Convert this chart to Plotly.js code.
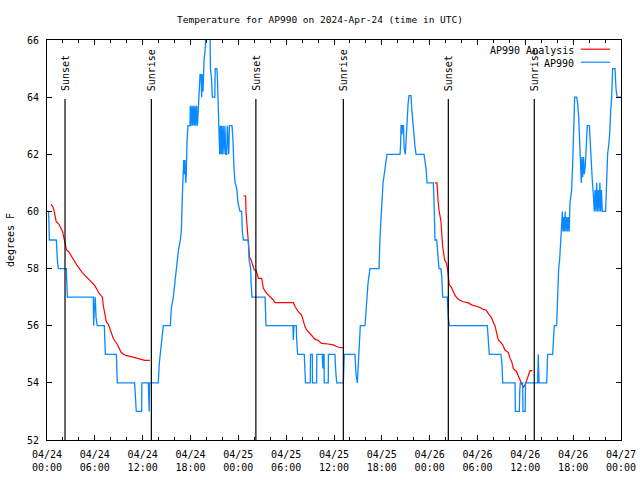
<!DOCTYPE html>
<html>
<head>
<meta charset="utf-8">
<script src="https://cdn.plot.ly/plotly-3.0.1.min.js"></script>
<style>html,body{margin:0;padding:0;background:#fff;}#chart{width:640px;height:480px;}</style>
</head>
<body>
<div id="chart"></div>
<script>
// Hours since 2024-04-24 00:00 UTC
const stationHours = [
 0.00,0.20,0.30,1.17,1.30,1.42,2.42,2.48,2.55,5.81,5.85,5.93,6.05,6.15,6.30,7.19,7.25,7.32,8.70,8.76,8.82,
 10.99,11.10,11.20,11.87,11.90,12.71,12.75,12.82,12.86,13.96,14.09,14.21,14.34,14.46,14.59,15.47,15.59,15.84,
 16.10,16.22,16.47,16.72,16.85,16.97,17.06,17.15,17.20,17.30,17.40,17.47,17.57,17.69,17.94,17.97,18.07,18.17,
 18.27,18.37,18.47,18.57,18.67,18.77,18.87,18.97,19.07,19.20,19.32,19.40,19.50,19.57,19.70,19.82,19.95,20.45,
 20.50,20.62,20.74,21.05,21.10,21.30,21.36,21.45,21.58,21.66,21.74,21.82,21.90,21.98,22.10,22.20,22.32,22.42,
 22.55,22.62,22.80,22.88,23.21,23.33,23.46,23.59,23.72,23.84,23.96,24.21,24.42,24.50,24.63,25.25,25.35,25.55,
 25.60,25.71,27.35,27.40,27.47,30.85,30.90,30.98,31.27,31.32,31.44,32.27,32.35,32.42,33.03,33.05,33.28,33.30,
 33.82,33.85,34.53,34.60,34.66,34.75,34.78,35.28,35.30,36.12,36.20,36.33,37.17,37.22,37.29,38.63,38.76,38.93,
 39.05,39.18,39.30,39.89,40.02,40.14,40.27,40.51,41.65,41.77,41.90,42.03,42.15,42.40,42.65,44.28,44.35,44.41,
 44.48,44.53,44.60,44.72,44.80,44.95,45.05,45.15,45.30,45.41,45.66,45.75,45.88,46.00,46.15,46.29,47.29,47.42,
 47.55,47.67,48.46,48.55,48.67,48.88,49.04,49.17,49.42,49.52,49.63,50.21,50.34,50.46,55.23,55.35,55.48,56.94,
 57.06,57.16,58.71,58.75,59.25,59.30,59.37,59.66,59.70,59.98,60.02,61.55,61.62,61.72,62.68,62.75,62.80,63.43,
 63.55,63.63,63.93,64.05,64.18,64.30,64.43,64.51,64.64,64.72,64.80,64.90,65.00,65.10,65.20,65.30,65.40,65.50,
 65.60,65.81,65.94,66.06,66.19,66.44,66.56,66.69,66.81,66.94,67.02,67.10,67.20,67.30,67.40,67.52,67.65,67.77,
 68.03,68.15,68.28,68.40,68.53,68.65,68.75,68.85,68.95,69.05,69.15,69.25,69.35,69.45,69.55,69.65,70.07,70.12,
 70.20,70.32,70.45,70.58,70.70,70.83,70.95,71.25,71.37,71.50,72.00
];
const stationTemp = [
 60.0,60.0,59.0,59.0,58.3,58.0,58.0,57.5,57.0,57.0,56.0,56.5,57.0,56.3,56.0,56.0,55.3,55.0,55.0,54.4,54.0,
 54.0,53.3,53.0,53.0,54.0,54.0,53.0,53.0,54.0,54.0,54.7,55.0,55.3,55.7,56.0,56.0,56.6,57.0,
 57.7,58.0,58.6,59.0,59.3,60.5,61.5,61.8,61.3,61.8,61.0,61.3,62.5,63.0,63.0,63.7,63.0,63.7,
 63.0,63.7,63.0,63.7,63.0,63.7,63.0,63.7,64.0,64.8,64.8,64.0,64.8,64.2,65.3,65.6,66.3,66.3,
 65.0,64.7,64.0,64.0,65.0,65.0,64.8,63.7,63.0,62.0,63.0,62.0,63.0,62.0,63.0,62.0,63.0,62.0,
 62.0,63.0,62.0,63.0,63.0,62.5,61.5,61.0,60.9,60.7,60.3,60.0,60.0,59.3,59.0,59.0,58.3,58.0,
 57.5,57.0,57.0,56.3,56.0,56.0,55.5,56.0,56.0,55.5,55.0,55.0,54.5,54.0,54.0,55.0,55.0,54.0,
 54.0,55.0,55.0,54.5,55.0,55.0,54.0,54.0,55.0,55.0,54.5,54.0,54.0,54.5,55.0,55.0,54.3,54.0,
 54.7,55.3,56.0,56.0,56.6,57.0,57.5,58.0,58.0,59.1,59.7,60.6,61.0,61.5,62.0,62.0,62.3,63.0,
 63.0,62.7,63.0,63.0,62.2,62.0,62.5,63.4,63.8,64.05,64.05,63.6,63.0,62.8,62.3,62.0,62.0,61.8,
 61.5,61.0,61.0,60.3,59.0,59.0,58.3,58.0,58.0,57.7,57.0,57.0,56.3,56.0,56.0,55.5,55.0,55.0,
 54.7,54.0,54.0,53.0,53.0,53.7,54.0,54.0,53.0,53.0,54.0,54.0,55.0,54.0,54.0,54.6,55.0,55.0,
 55.6,56.0,56.0,57.5,58.0,58.3,58.8,59.3,60.0,59.3,59.8,59.3,60.0,59.3,59.8,59.3,59.8,59.3,
 60.3,60.75,61.7,63.3,64.0,64.0,63.8,63.3,62.5,61.6,61.0,61.9,61.2,61.9,61.3,61.6,62.5,63.0,
 63.0,62.2,61.7,61.1,60.6,60.0,60.75,60.0,61.0,60.0,60.75,60.0,61.0,60.0,60.75,60.0,60.0,60.5,
 61.6,62.0,62.3,62.7,63.5,64.0,65.0,65.0,64.3,64.0,64.0
];
// Analysis series (null separates the nightly runs)
const analysisHours = [
 0.50,0.75,0.90,1.15,1.50,1.95,2.10,2.30,2.45,2.70,3.30,3.80,4.40,5.00,5.55,6.00,6.55,6.95,7.07,7.30,7.44,
 7.70,8.30,8.80,9.30,9.60,10.00,10.80,11.50,12.25,12.92,
 18.00,
 24.63,24.92,24.96,25.13,25.25,25.40,25.60,25.75,26.00,26.22,26.51,26.93,27.14,27.55,27.97,28.39,28.60,30.90,
 31.11,31.53,31.94,32.15,32.36,32.57,32.99,33.41,33.62,34.03,34.45,35.29,35.92,36.33,36.75,37.09,
 42.00,
 48.67,48.92,49.05,49.17,49.42,49.55,49.63,49.88,50.10,50.26,50.35,50.46,50.71,50.96,51.21,51.47,51.72,52.22,
 52.85,53.27,53.89,54.31,54.73,55.06,55.35,55.57,55.77,56.00,56.20,56.40,56.61,56.82,57.16,57.45,57.87,58.08,
 58.29,58.50,58.91,59.12,59.33,59.54,59.75,59.96,60.17,60.38,60.59,60.88
];
const analysisTemp = [
 60.26,60.15,60.00,59.65,59.55,59.30,59.10,58.88,58.65,58.60,58.30,58.10,57.87,57.70,57.54,57.40,57.13,57.00,56.69,56.30,56.14,
 56.05,55.56,55.35,55.07,55.00,54.95,54.90,54.85,54.79,54.79,
 null,
 60.54,60.54,60.00,59.35,59.00,58.40,58.30,58.18,57.95,57.95,57.66,57.66,57.31,57.13,57.02,56.90,56.81,56.81,
 56.67,56.49,56.37,56.14,55.97,55.85,55.73,55.62,55.53,55.48,55.38,55.36,55.33,55.27,55.23,55.23,
 null,
 61.00,61.00,60.40,60.05,59.64,59.20,58.77,58.30,58.20,57.95,57.70,57.43,57.35,57.20,57.05,56.96,56.90,56.84,
 56.80,56.73,56.69,56.64,56.57,56.55,56.43,56.34,56.28,56.10,56.00,55.75,55.50,55.45,55.33,55.15,55.06,54.86,
 54.74,54.50,54.39,54.24,54.10,53.98,53.84,53.92,54.10,54.27,54.43,54.43
];
const sunEventHours = [2.26, 13.09, 26.20, 37.17, 50.34, 61.12];
const sunEventLabels = ['Sunset', 'Sunrise', 'Sunset', 'Sunrise', 'Sunset', 'Sunrise'];
const seriesNames = ['AP990 Analysis', 'AP990'];
const chartTitle = 'Temperature for AP990 on 2024-Apr-24 (time in UTC)';

const BASE = Date.UTC(2024, 3, 24, 0, 0, 0);
function pad(n) { return (n < 10 ? '0' : '') + n; }
function toDate(h) {
  const d = new Date(BASE + Math.round(h * 3600) * 1000);
  return d.getUTCFullYear() + '-' + pad(d.getUTCMonth() + 1) + '-' + pad(d.getUTCDate()) + ' ' +
    pad(d.getUTCHours()) + ':' + pad(d.getUTCMinutes()) + ':' + pad(d.getUTCSeconds());
}

const FONT = 'DejaVu Sans Mono, Liberation Mono, monospace';
const RED = '#ff0000';
const BLUE = '#0a88ff';

const traces = [
  { x: analysisHours.map(toDate), y: analysisTemp, name: seriesNames[0], type: 'scatter', mode: 'lines',
    line: { color: RED, width: 1.2 }, connectgaps: false },
  { x: stationHours.map(toDate), y: stationTemp, name: seriesNames[1], type: 'scatter', mode: 'lines',
    line: { color: BLUE, width: 1.3 } }
];

const shapes = sunEventHours.map(h => ({
  type: 'line', xref: 'x', yref: 'paper', x0: toDate(h), x1: toDate(h), y0: 0, y1: 0.8525,
  line: { color: '#000', width: 1.2 }
}));
const annotations = sunEventHours.map((h, i) => ({
  x: toDate(h), xref: 'x', y: 0.8675, yref: 'paper', text: sunEventLabels[i], textangle: -90,
  showarrow: false, xanchor: 'center', yanchor: 'bottom', xshift: 1,
  font: { family: FONT, size: 10, color: '#000' }
}));
// legend: text left, sample line right
const legendY = [0.975, 0.9425];
const legendColors = [RED, BLUE];
seriesNames.forEach((n, i) => {
  annotations.push({ x: 0.921, xref: 'paper', y: legendY[i], yref: 'paper', text: n, showarrow: false,
    xanchor: 'right', yanchor: 'middle', font: { family: FONT, size: 10, color: '#000' } });
  shapes.push({ type: 'line', xref: 'paper', yref: 'paper', x0: 0.930, x1: 0.981,
    y0: legendY[i] + 0.002, y1: legendY[i] + 0.002, line: { color: legendColors[i], width: 1.2 } });
});

const layout = {
  width: 640, height: 480,
  margin: { l: 47, r: 19, t: 40, b: 40, pad: 0 },
  paper_bgcolor: '#fff', plot_bgcolor: '#fff',
  showlegend: false,
  title: { text: chartTitle, font: { family: FONT, size: 9.5, color: '#000' },
    x: 0.5, xref: 'container', xanchor: 'center', y: 1 - 19.5 / 480, yref: 'container', yanchor: 'middle' },
  xaxis: {
    type: 'date', range: [toDate(0), toDate(72)],
    tick0: toDate(0), dtick: 6 * 3600 * 1000, tickformat: '%m/%d<br>%H:%M',
    ticks: 'inside', ticklen: 5, tickwidth: 1, tickcolor: '#000',
    minor: { dtick: 2 * 3600 * 1000, ticks: 'inside', ticklen: 3, tickcolor: '#000', showgrid: false },
    showline: true, linecolor: '#000', linewidth: 1, mirror: 'ticks',
    showgrid: false, zeroline: false, ticklabelstandoff: 5,
    tickfont: { family: FONT, size: 10, color: '#000' }
  },
  yaxis: {
    range: [52, 66], dtick: 2, tick0: 52,
    ticks: 'inside', ticklen: 5, tickwidth: 1, tickcolor: '#000',
    showline: true, linecolor: '#000', linewidth: 1, mirror: 'ticks',
    showgrid: false, zeroline: false, ticklabelstandoff: 5,
    tickfont: { family: FONT, size: 10, color: '#000' },
    title: { text: 'degrees F', standoff: 10, font: { family: FONT, size: 10, color: '#000' } }
  },
  shapes: shapes,
  annotations: annotations
};

Plotly.newPlot('chart', traces, layout, { displayModeBar: false, staticPlot: true });
</script>
</body>
</html>
